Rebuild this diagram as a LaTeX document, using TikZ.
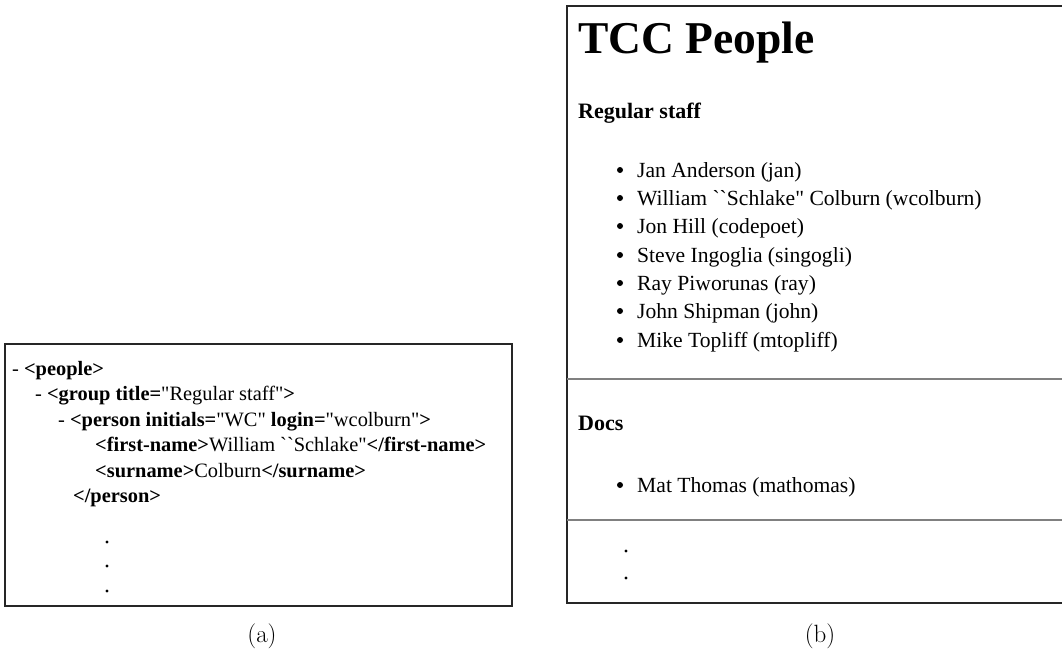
\documentclass[tikz,border=0pt]{standalone}
\usepackage{fontspec}
\newfontfamily\web{Liberation Serif}[Ligatures=TeXOff]
\begin{document}
\begin{tikzpicture}[x=1pt,y=-1pt,
  frame/.style={line width=1.6pt,black!85},
  xmlline/.style={anchor=base west,inner sep=0pt,font=\web\fontsize{20.4}{24}\selectfont},
  bodyline/.style={anchor=base west,inner sep=0pt,font=\web\fontsize{21.6}{26}\selectfont},
  headline/.style={anchor=base west,inner sep=0pt,font=\web\bfseries\fontsize{22}{26}\selectfont},
  bigtitle/.style={anchor=base west,inner sep=0pt,font=\web\bfseries\fontsize{45.5}{50}\selectfont},
  bulletdot/.style={circle,fill=black,inner sep=0pt,minimum size=6pt},
  smalldot/.style={circle,fill=black,inner sep=0pt,minimum size=3.4pt},
  rule/.style={line width=1.5pt,black!50},
  caption/.style={inner sep=0pt,font=\fontsize{25}{30}\selectfont}]
\useasboundingbox (0,0) rectangle (1062,651);

% ---- (a) XML source view ----
\draw[frame] (5,344) rectangle (512,606);
\node[xmlline] (x1) at (12,375) {- \textbf{<people>}};
\node[xmlline] (x2) at (35,400.5) {- \textbf{<group title=}"Regular staff"\textbf{>}};
\node[xmlline] (x3) at (58,426) {- \textbf{<person initials=}"WC" \textbf{login=}"wcolburn"\textbf{>}};
\node[xmlline] (x4) at (95,451.5) {\textbf{<first-name>}William ``Schlake"\textbf{</first-name>}};
\node[xmlline] (x5) at (95,477) {\textbf{<surname>}Colburn\textbf{</surname>}};
\node[xmlline] (x6) at (73,502.5) {\textbf{</person>}};
\node[smalldot] (ad1) at (107,542) {};
\node[smalldot] (ad2) at (107,566) {};
\node[smalldot] (ad3) at (107,591) {};
\node[caption] (capa) at (262,636) {(a)};

% ---- (b) rendered page ----
\draw[frame] (1062,6) -- (567,6) -- (567,603) -- (1062,603);
\node[bigtitle] (title) at (578,53) {TCC People};
\node[headline] (g1) at (578,118) {Regular staff};
\foreach \y/\who [count=\i] in {177/{Jan Anderson (jan)},
    205/{William ``Schlake" Colburn (wcolburn)},
    233/{Jon Hill (codepoet)},
    262/{Steve Ingoglia (singogli)},
    290/{Ray Piworunas (ray)},
    318/{John Shipman (john)},
    347/{Mike Topliff (mtopliff)}}{
  \node[bulletdot] (rb\i) at (620,\y-7) {};
  \node[bodyline] (r\i) at (637,\y) {\who};
}
\draw[rule] (567,379) -- (1062,379);
\node[headline] (g2) at (578,430) {Docs};
\node[bulletdot] (db1) at (620,485) {};
\node[bodyline] (d1) at (637,492) {Mat Thomas (mathomas)};
\draw[rule] (567,520) -- (1062,520);
\node[smalldot] (bd1) at (626,551) {};
\node[smalldot] (bd2) at (626,578) {};
\node[caption] (capb) at (820,636) {(b)};
\end{tikzpicture}
\end{document}
